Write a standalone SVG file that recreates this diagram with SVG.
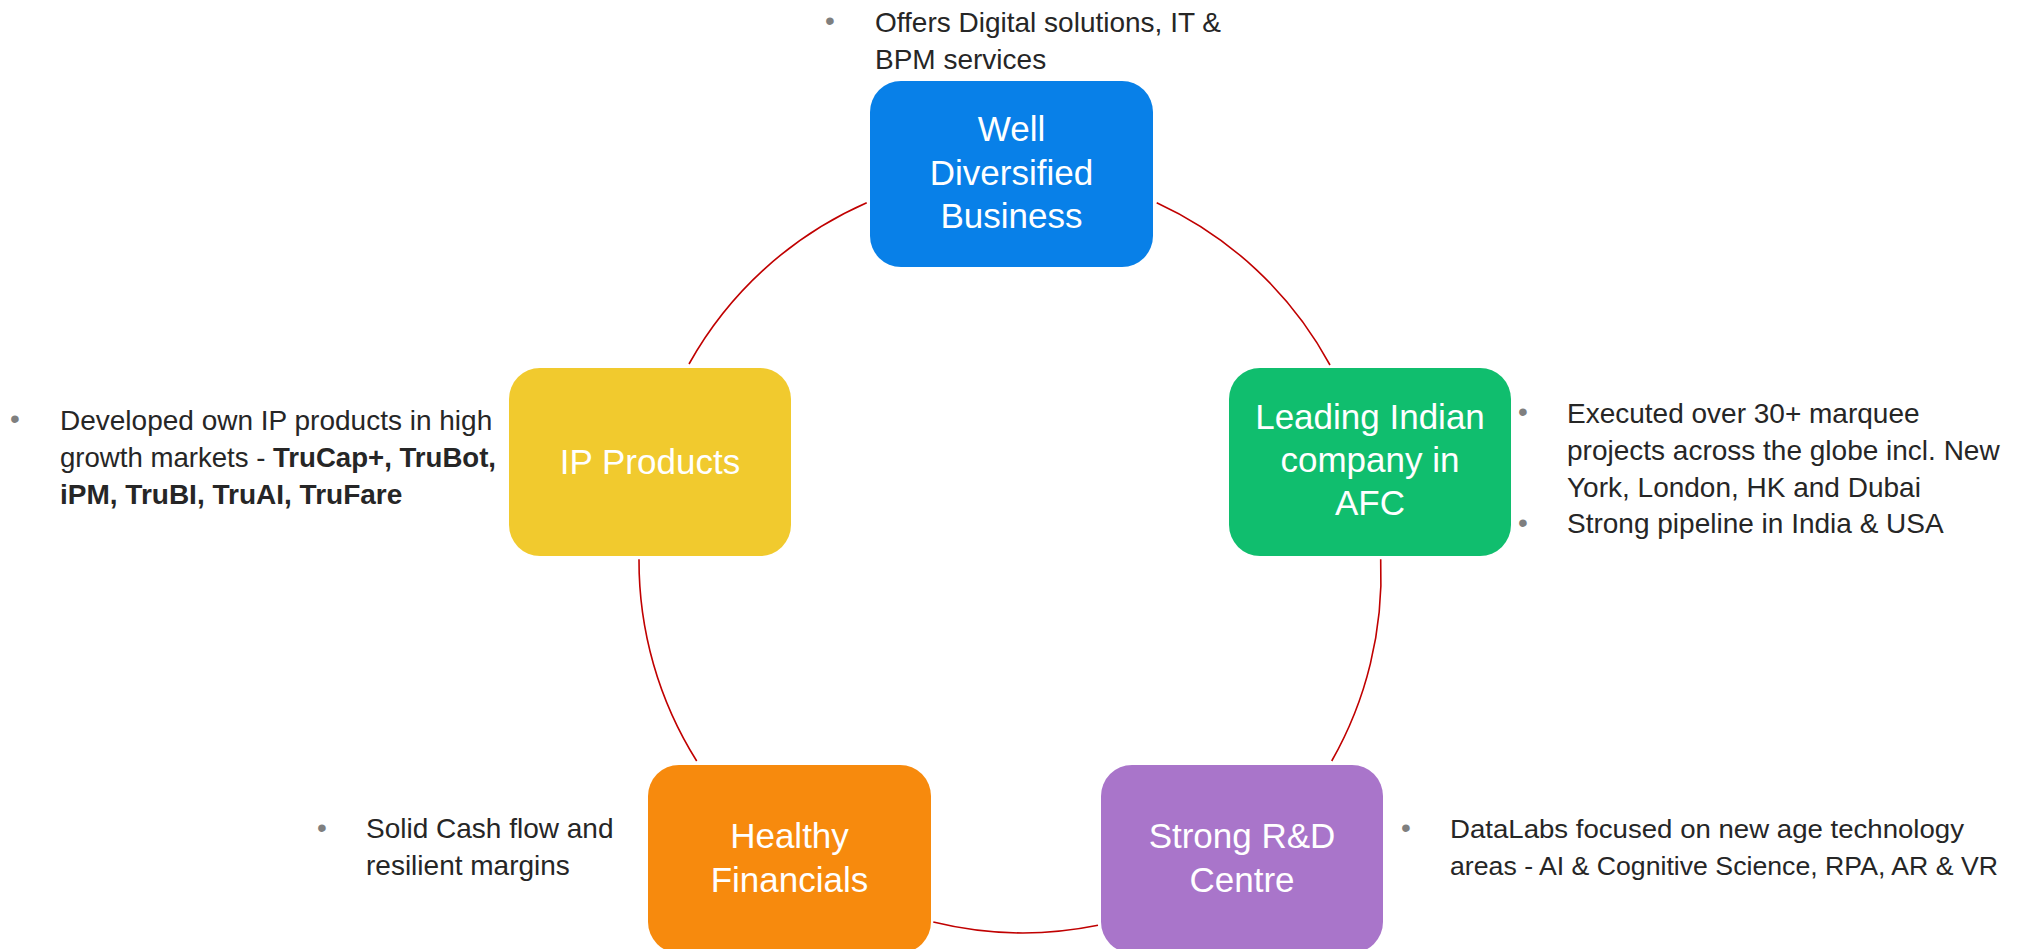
<svg xmlns="http://www.w3.org/2000/svg" width="2017" height="949" viewBox="0 0 2017 949">
<style>
.box{stroke:none}
.title{font-family:"Liberation Sans",Arial,sans-serif;font-size:35px;fill:#ffffff;text-anchor:middle}
.body{font-family:"Liberation Sans",Arial,sans-serif;font-size:28px;fill:#262626}
.narrow{font-size:26px}
.bullet{font-family:"Liberation Sans",Arial,sans-serif;font-size:28px;fill:#7f7f7f;text-anchor:middle}
.arc{fill:none;stroke:#C00000;stroke-width:1.6}
.b{font-weight:bold}
</style>
<rect width="2017" height="949" fill="#ffffff"/>
<g id="connectors">
<path class="arc" d="M1156.7 202.7 A376 376 0 0 1 1330 365"/>
<path class="arc" d="M1380.7 559.3 A376 376 0 0 1 1331.7 761"/>
<path class="arc" d="M1098 925.3 A376 376 0 0 1 933.3 922"/>
<path class="arc" d="M696.7 761 A376 376 0 0 1 639 559.3"/>
<path class="arc" d="M689 364 A376 376 0 0 1 866.7 202.7"/>
</g>
<g id="node-well-diversified">
<rect class="box" x="870" y="81" width="283" height="186" rx="31" fill="#0880E8"/>
<text class="title" x="1011.5" y="141">Well</text>
<text class="title" x="1011.5" y="184.5">Diversified</text>
<text class="title" x="1011.5" y="228">Business</text>
</g>
<g id="node-leading-indian">
<rect class="box" x="1229" y="368" width="282" height="188" rx="31" fill="#10BE6E"/>
<text class="title" x="1370" y="429">Leading Indian</text>
<text class="title" x="1370" y="472">company in</text>
<text class="title" x="1370" y="515">AFC</text>
</g>
<g id="node-ip-products">
<rect class="box" x="509" y="368" width="282" height="188" rx="31" fill="#F1CA2E"/>
<text class="title" x="650" y="474">IP Products</text>
</g>
<g id="node-healthy-financials">
<rect class="box" x="648" y="765" width="283" height="188" rx="31" fill="#F78A0D"/>
<text class="title" x="789.5" y="848">Healthy</text>
<text class="title" x="789.5" y="891.5">Financials</text>
</g>
<g id="node-strong-rd">
<rect class="box" x="1101" y="765" width="282" height="188" rx="31" fill="#A975CA"/>
<text class="title" x="1242" y="848">Strong R&amp;D</text>
<text class="title" x="1242" y="891.5">Centre</text>
</g>
<g id="note-top">
<text class="bullet" x="830" y="30">•</text>
<text class="body" x="875" y="32">Offers Digital solutions, IT &amp;</text>
<text class="body" x="875" y="68.5">BPM services</text>
</g>
<g id="note-right">
<text class="bullet" x="1523" y="421">•</text>
<text class="body" x="1567" y="423">Executed over 30+ marquee</text>
<text class="body" x="1567" y="460">projects across the globe incl. New</text>
<text class="body" x="1567" y="497">York, London, HK and Dubai</text>
<text class="bullet" x="1523" y="532">•</text>
<text class="body" x="1567" y="533">Strong pipeline in India &amp; USA</text>
</g>
<g id="note-left">
<text class="bullet" x="15" y="428">•</text>
<text class="body" x="60" y="430">Developed own IP products in high</text>
<text class="body" x="60" y="467" textLength="436" lengthAdjust="spacingAndGlyphs">growth markets - <tspan class="b">TruCap+, TruBot,</tspan></text>
<text class="body b" x="60" y="504">iPM, TruBI, TruAI, TruFare</text>
</g>
<g id="note-bottom-left">
<text class="bullet" x="322" y="837">•</text>
<text class="body" x="366" y="838">Solid Cash flow and</text>
<text class="body" x="366" y="875">resilient margins</text>
</g>
<g id="note-bottom-right">
<text class="bullet" x="1406" y="837">•</text>
<text class="body narrow" x="1450" y="838" textLength="514" lengthAdjust="spacingAndGlyphs">DataLabs focused on new age technology</text>
<text class="body narrow" x="1450" y="875" textLength="548" lengthAdjust="spacingAndGlyphs">areas - AI &amp; Cognitive Science, RPA, AR &amp; VR</text>
</g>
</svg>
